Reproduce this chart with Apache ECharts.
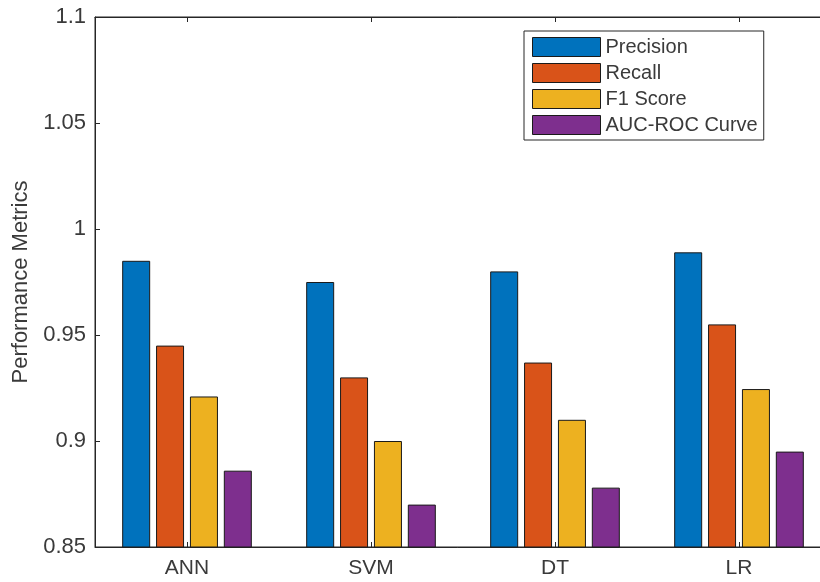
<!DOCTYPE html>
<html>
<head>
<meta charset="utf-8">
<script src="https://cdn.jsdelivr.net/npm/echarts@6/dist/echarts.min.js"></script>
<style>
html,body{margin:0;padding:0;background:#fff;}
#chart{width:820px;height:582px;}
</style>
</head>
<body>
<div id="chart"></div>
<script>
const categories = ['ANN', 'SVM', 'DT', 'LR'];
const seriesNames = ['Precision', 'Recall', 'F1 Score', 'AUC-ROC Curve'];
const precision = [0.985, 0.975, 0.980, 0.989];
const recall = [0.945, 0.930, 0.937, 0.955];
const f1Score = [0.921, 0.900, 0.910, 0.9245];
const aucRoc = [0.886, 0.870, 0.878, 0.895];
const yTicks = [0.85, 0.9, 0.95, 1, 1.05, 1.1];
const colors = ['#0072BD', '#D95319', '#EDB120', '#7E2F8E'];

const values = [precision, recall, f1Score, aucRoc];
const axisColor = '#262626';
const textColor = '#3a3a3a';
const font = '"Liberation Sans", Arial, Helvetica, sans-serif';

const chart = echarts.init(document.getElementById('chart'), null, {renderer: 'canvas'});
chart.setOption({
  animation: false,
  backgroundColor: '#ffffff',
  color: colors,
  grid: {
    left: 95, top: 17, bottom: 35, width: 736,
    outerBoundsMode: 'none',
    containLabel: false,
    show: true, borderColor: axisColor, borderWidth: 1, backgroundColor: '#fff'
  },
  legend: {
    data: seriesNames,
    orient: 'vertical',
    left: 524, top: 31,
    padding: [6, 6, 5, 8],
    itemWidth: 68, itemHeight: 19, itemGap: 6,
    borderColor: axisColor, borderWidth: 1,
    backgroundColor: '#fff',
    icon: 'rect',
    itemStyle: {borderColor: '#1a1a1a', borderWidth: 1},
    textStyle: {fontFamily: font, fontSize: 20, color: textColor, lineHeight: 19}
  },
  xAxis: [{
    type: 'category',
    data: categories,
    position: 'bottom',
    axisLine: {lineStyle: {color: axisColor, width: 1}},
    axisTick: {show: true, inside: true, alignWithLabel: true, length: 5, lineStyle: {color: axisColor}},
    axisLabel: {fontFamily: font, fontSize: 21, color: textColor, margin: 11},
    splitLine: {show: false}
  }, {
    type: 'category',
    data: categories,
    position: 'top',
    axisLine: {show: true, lineStyle: {color: axisColor, width: 1}},
    axisTick: {show: true, inside: true, alignWithLabel: true, length: 5, lineStyle: {color: axisColor}},
    axisLabel: {show: false},
    splitLine: {show: false}
  }],
  yAxis: {
    type: 'value',
    min: yTicks[0], max: yTicks[yTicks.length - 1], interval: 0.05,
    name: 'Performance Metrics',
    nameLocation: 'middle',
    nameGap: 63,
    nameTextStyle: {fontFamily: font, fontSize: 22, color: textColor},
    axisLine: {show: true, lineStyle: {color: axisColor, width: 1}},
    axisTick: {show: true, inside: true, length: 5, lineStyle: {color: axisColor}},
    axisLabel: {
      fontFamily: font, fontSize: 22, color: textColor, margin: 9,
      formatter: v => String(+v.toFixed(2))
    },
    splitLine: {show: false}
  },
  series: seriesNames.map((name, i) => ({
    name: name,
    type: 'bar',
    xAxisIndex: 0,
    data: values[i],
    barWidth: 28,
    barGap: '21%',
    itemStyle: {color: colors[i], borderColor: '#1a1a1a', borderWidth: 1}
  }))
});
</script>
</body>
</html>
